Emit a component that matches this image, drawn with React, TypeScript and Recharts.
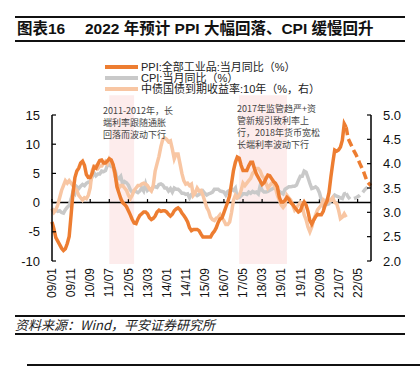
import React from 'react';
import { LineChart, Line, XAxis, YAxis, ReferenceArea, ReferenceLine } from 'recharts';

const SANS = '"Liberation Sans", Arial, "Noto Sans CJK SC", sans-serif';
const CJK = '"Noto Sans CJK SC", "Liberation Sans", sans-serif';

const ORANGE = '#ED7D31';
const GREY = '#C9C9C9';
const PEACH = '#F8C6A3';

// monthly categories 2009/01 .. 2022/12, labelled YY/MM
const months: string[] = [];
for (let y = 2009; y <= 2022; y++) {
  for (let m = 1; m <= 12; m++) months.push(`${String(y).slice(2)}/${String(m).padStart(2, '0')}`);
}

const tickLabels = [
  '09/01', '09/11', '10/09', '11/07', '12/05', '13/03', '14/01', '14/11', '15/09',
  '16/07', '17/05', '18/03', '19/01', '19/11', '20/09', '21/07', '22/05',
];

// PPI yoy, 2009/01 - 2021/11
const ppiActual = [
  -3.3, -4.5, -6.0, -6.6, -7.2, -7.8, -8.2, -7.9, -7.0, -5.8, -2.1, 1.7,
  4.3, 5.4, 5.9, 6.8, 7.1, 6.4, 4.8, 4.3, 4.3, 5.0, 6.1, 5.9,
  6.6, 7.2, 7.3, 6.8, 6.8, 7.1, 7.5, 7.3, 6.5, 5.0, 2.7, 1.7,
  0.7, 0.0, -0.3, -0.7, -1.4, -2.1, -2.9, -3.5, -3.6, -2.8, -2.2, -1.9,
  -1.6, -1.6, -1.9, -2.6, -2.9, -2.7, -2.3, -1.6, -1.3, -1.5, -1.4, -1.4,
  -1.6, -2.0, -2.3, -2.0, -1.4, -1.1, -0.9, -1.2, -1.8, -2.2, -2.7, -3.3,
  -4.3, -4.8, -4.6, -4.6, -4.6, -4.8, -5.4, -5.9, -5.9, -5.9, -5.9, -5.9,
  -5.3, -4.9, -4.3, -3.4, -2.8, -2.6, -1.7, -0.8, 0.1, 1.2, 3.3, 5.5,
  6.9, 7.8, 7.6, 6.4, 5.5, 5.5, 5.5, 6.3, 6.9, 6.9, 5.8, 4.9,
  4.3, 3.7, 3.1, 3.4, 4.1, 4.7, 4.6, 4.1, 3.6, 3.3, 2.7, 0.9,
  0.1, 0.1, 0.4, 0.9, 0.6, 0.0, -0.3, -0.8, -1.2, -1.6, -1.4, -0.5,
  0.1, -0.4, -1.5, -3.1, -3.7, -3.0, -2.4, -2.0, -2.1, -2.1, -1.5, -0.4,
  0.3, 1.7, 4.4, 6.8, 9.0, 8.8, 9.0, 9.5, 10.7, 13.5, 12.9,
];

// PPI forecast, 2021/11 - 2022/12 (dashed)
const ppiForecast = [12.9, 11.0, 10.3, 9.6, 8.9, 8.3, 7.6, 6.8, 6.1, 5.4, 4.5, 3.6, 3.2, 2.9];

// CPI yoy, 2009/01 - 2021/11
const cpiActual = [
  -1.0, -1.6, -1.2, -1.5, -1.4, -1.7, -1.8, -1.2, -0.8, -0.5, 0.6, 1.9,
  1.5, 2.7, 2.4, 2.8, 3.1, 2.9, 3.3, 3.5, 3.6, 4.4, 5.1, 4.6,
  4.9, 4.9, 5.4, 5.3, 5.5, 6.4, 6.5, 6.2, 6.1, 5.5, 4.2, 4.1,
  4.5, 3.2, 3.6, 3.4, 3.0, 2.2, 1.8, 2.0, 1.9, 1.7, 2.0, 2.5,
  2.0, 3.2, 2.1, 2.4, 2.1, 2.7, 2.7, 2.6, 3.1, 3.2, 3.0, 2.5,
  2.5, 2.0, 2.4, 1.8, 2.5, 2.3, 2.3, 2.0, 1.6, 1.6, 1.4, 1.5,
  0.8, 1.4, 1.4, 1.5, 1.2, 1.4, 1.6, 2.0, 1.6, 1.3, 1.5, 1.6,
  1.8, 2.3, 2.3, 2.3, 2.0, 1.9, 1.8, 1.3, 1.9, 2.1, 2.3, 2.1,
  2.5, 0.8, 0.9, 1.2, 1.5, 1.5, 1.4, 1.8, 1.6, 1.9, 1.7, 1.8,
  1.5, 2.9, 2.1, 1.8, 1.8, 1.9, 2.1, 2.3, 2.5, 2.5, 2.2, 1.9,
  1.7, 1.5, 2.3, 2.5, 2.7, 2.7, 2.8, 2.8, 3.0, 3.8, 4.5, 4.5,
  5.4, 5.2, 4.3, 3.3, 2.4, 2.5, 2.7, 2.4, 1.7, 0.5, -0.5, 0.2,
  -0.3, -0.2, 0.4, 0.9, 1.3, 1.1, 1.0, 0.8, 0.7, 1.5, 1.6,
];

// CPI forecast, 2021/11 - 2022/12 (dashed)
const cpiForecast = [1.6, 1.0, 0.6, 0.6, 0.7, 0.8, 1.0, 1.2, 1.5, 1.9, 2.3, 2.6, 2.9, 3.0];

// 10Y CGB yield (right axis), 2009/01 - 2021/11
const yield10y = [
  3.07, 3.0, 3.05, 3.15, 3.3, 3.45, 3.55, 3.65, 3.6, 3.65, 3.6, 3.55,
  3.5, 3.45, 3.35, 3.3, 3.25, 3.3, 3.28, 3.35, 3.5, 3.85, 3.95, 3.95,
  3.9, 3.95, 3.95, 4.0, 4.05, 4.0, 4.1, 4.05, 3.95, 3.75, 3.6, 3.5,
  3.55, 3.55, 3.5, 3.45, 3.35, 3.28, 3.35, 3.45, 3.5, 3.55, 3.55, 3.58,
  3.6, 3.58, 3.55, 3.48, 3.44, 3.55, 3.85, 4.0, 4.15, 4.35, 4.5, 4.53,
  4.5, 4.45, 4.47, 4.3, 4.1, 4.2, 4.2, 4.0, 3.8, 3.65, 3.58, 3.6,
  3.55, 3.58, 3.35, 3.4, 3.5, 3.44, 3.45, 3.35, 3.23, 3.1, 3.03, 2.9,
  2.85, 2.83, 2.88, 2.9, 2.95, 2.88, 2.83, 2.75, 2.75, 2.8, 3.0, 3.25,
  3.35, 3.3, 3.35, 3.45, 3.6, 3.55, 3.6, 3.65, 3.7, 3.8, 3.85, 3.9,
  3.9, 3.85, 3.75, 3.7, 3.6, 3.5, 3.55, 3.6, 3.6, 3.5, 3.35, 3.25,
  3.15, 3.1, 3.15, 3.35, 3.3, 3.25, 3.15, 3.05, 3.1, 3.15, 3.2, 3.15,
  2.95, 2.85, 2.7, 2.6, 2.7, 2.85, 2.95, 3.05, 3.1, 3.15, 3.25, 3.2,
  3.2, 3.25, 3.25, 3.3, 3.2, 3.18, 3.05, 2.87, 2.9, 2.97, 2.9,
];

const FORECAST_START = 154; // 21/11

const data = months.map((month, i) => ({
  month,
  ppi: i < ppiActual.length ? ppiActual[i] : null,
  ppiF: i >= FORECAST_START ? ppiForecast[i - FORECAST_START] : null,
  cpi: i < cpiActual.length ? cpiActual[i] : null,
  cpiF: i >= FORECAST_START ? cpiForecast[i - FORECAST_START] : null,
  yld: i < yield10y.length ? yield10y[i] : null,
}));

const shaded = [
  ['11/07', '12/08'],
  ['17/03', '19/04'],
];

const legendItems = [
  { label: 'PPI:全部工业品:当月同比（%）', color: ORANGE },
  { label: 'CPI:当月同比（%）', color: GREY },
  { label: '中债国债到期收益率:10年（%，右）', color: PEACH },
];

const note1 = ['2011-2012年，长', '端利率跟随通胀', '回落而波动下行'];
const note2 = ['2017年监管趋严+资', '管新规引致利率上', '行，2018年货币宽松', '长端利率波动下行'];

const LeftTick = ({ x, y, payload }: any) => (
  <g>
    <line x1={x + 12} y1={y} x2={x + 16} y2={y} stroke="#000" strokeWidth={1.2} />
    <text x={x} y={y} dy="0.35em" textAnchor="end" fontSize={13} fill="#111" fontFamily={SANS}>
      {payload.value}
    </text>
  </g>
);

const RightTick = ({ x, y, payload }: any) => (
  <g>
    <line x1={x - 12} y1={y} x2={x - 16} y2={y} stroke="#000" strokeWidth={1.2} />
    <text x={x} y={y} dy="0.35em" textAnchor="start" fontSize={13} fill="#111" fontFamily={SANS}>
      {Number(payload.value).toFixed(1)}
    </text>
  </g>
);

const MonthTick = ({ x, y, payload }: any) => (
  <text
    x={x}
    y={y}
    dy="0.35em"
    transform={`rotate(-90, ${x}, ${y})`}
    textAnchor="end"
    fontSize={12}
    fill="#111"
    fontFamily={SANS}
  >
    {payload.value}
  </text>
);

const rule = (top: number, left: number, width: number) => (
  <div style={{ position: 'absolute', top, left, width, height: 1.5, background: '#111' }} />
);

const Note = ({ lines, top, left }: { lines: string[]; top: number; left: number }) => (
  <div style={{ position: 'absolute', top, left }}>
    {lines.map((l) => (
      <div key={l} style={{ fontFamily: CJK, fontSize: 9, lineHeight: '12px', height: 12, color: '#444', whiteSpace: 'nowrap' }}>
        {l}
      </div>
    ))}
  </div>
);

export default function App() {
  return (
    <div style={{ position: 'absolute', left: 0, top: 0, width: 420, height: 370, background: '#fff', overflow: 'hidden' }}>
      <LineChart
        width={420}
        height={370}
        data={data}
        margin={{ top: 115, right: 9, bottom: 69, left: 12 }}
        style={{ position: 'absolute', left: 0, top: 0 }}
      >
        {shaded.map(([a, b]) => (
          <ReferenceArea
            key={a}
            yAxisId="left"
            x1={a}
            x2={b}
            y1={-10.5}
            y2={18.4}
            ifOverflow="visible"
            fill="#FDECEC"
            fillOpacity={1}
            stroke="none"
          />
        ))}
        <XAxis
          dataKey="month"
          ticks={tickLabels}
          interval={0}
          axisLine={false}
          tickLine={false}
          tickSize={0}
          tickMargin={7}
          height={40}
          tick={<MonthTick />}
        />
        <YAxis
          yAxisId="left"
          domain={[-10, 15]}
          ticks={[-10, -5, 0, 5, 10, 15]}
          width={40}
          tickSize={0}
          tickMargin={12}
          tickLine={false}
          axisLine={{ stroke: '#000', strokeWidth: 1.5 }}
          tick={<LeftTick />}
        />
        <YAxis
          yAxisId="right"
          orientation="right"
          domain={[2, 5]}
          ticks={[2, 2.5, 3, 3.5, 4, 4.5, 5]}
          width={40}
          tickSize={0}
          tickMargin={12}
          tickLine={false}
          axisLine={{ stroke: '#000', strokeWidth: 1.5 }}
          tick={<RightTick />}
        />
        <ReferenceLine yAxisId="left" y={0} stroke="#000" strokeWidth={1.5} />
        {tickLabels.map((t) => (
          <ReferenceLine
            key={t}
            yAxisId="left"
            segment={[{ x: t, y: 0 }, { x: t, y: 0.6 }]}
            stroke="#000"
            strokeWidth={1.2}
          />
        ))}
        <Line yAxisId="left" dataKey="cpi" stroke={GREY} strokeWidth={3.5} dot={false} isAnimationActive={false} />
        <Line yAxisId="left" dataKey="cpiF" stroke={GREY} strokeWidth={3.5} strokeDasharray="7 4" dot={false} isAnimationActive={false} />
        <Line yAxisId="right" dataKey="yld" stroke={PEACH} strokeWidth={3.5} dot={false} isAnimationActive={false} />
        <Line yAxisId="left" dataKey="ppi" stroke={ORANGE} strokeWidth={3.5} dot={false} isAnimationActive={false} />
        <Line yAxisId="left" dataKey="ppiF" stroke={ORANGE} strokeWidth={3.5} strokeDasharray="8 4" dot={false} isAnimationActive={false} />
      </LineChart>

      {rule(16, 15, 390)}
      <div style={{ position: 'absolute', top: 19, left: 17, fontFamily: SANS, fontWeight: 700, fontSize: 15.5, lineHeight: '20px', color: '#111', whiteSpace: 'nowrap' }}>
        图表16
      </div>
      <div style={{ position: 'absolute', top: 19, left: 85, fontFamily: SANS, fontWeight: 700, fontSize: 15.5, lineHeight: '20px', color: '#111', whiteSpace: 'nowrap' }}>
        2022 年预计 PPI 大幅回落、CPI 缓慢回升
      </div>
      {rule(40, 15, 390)}

      <div style={{ position: 'absolute', top: 61.5, left: 105 }}>
        {legendItems.map((it) => (
          <div key={it.label} style={{ display: 'flex', alignItems: 'center', height: 11 }}>
            <div style={{ width: 33, height: 3.5, background: it.color, marginRight: 3 }} />
            <span style={{ fontFamily: SANS, fontSize: 11, lineHeight: '11px', color: '#222', whiteSpace: 'nowrap' }}>{it.label}</span>
          </div>
        ))}
      </div>

      <Note lines={note1} top={105} left={103} />
      <Note lines={note2} top={103} left={237} />

      {rule(315, 15, 390)}
      <div style={{ position: 'absolute', top: 317, left: 15, fontFamily: CJK, fontStyle: 'italic', fontSize: 13, lineHeight: '16px', color: '#222', whiteSpace: 'nowrap' }}>
        资料来源：Wind，平安证券研究所
      </div>
      {rule(333, 15, 390)}
      {rule(364, 27, 393)}
    </div>
  );
}
